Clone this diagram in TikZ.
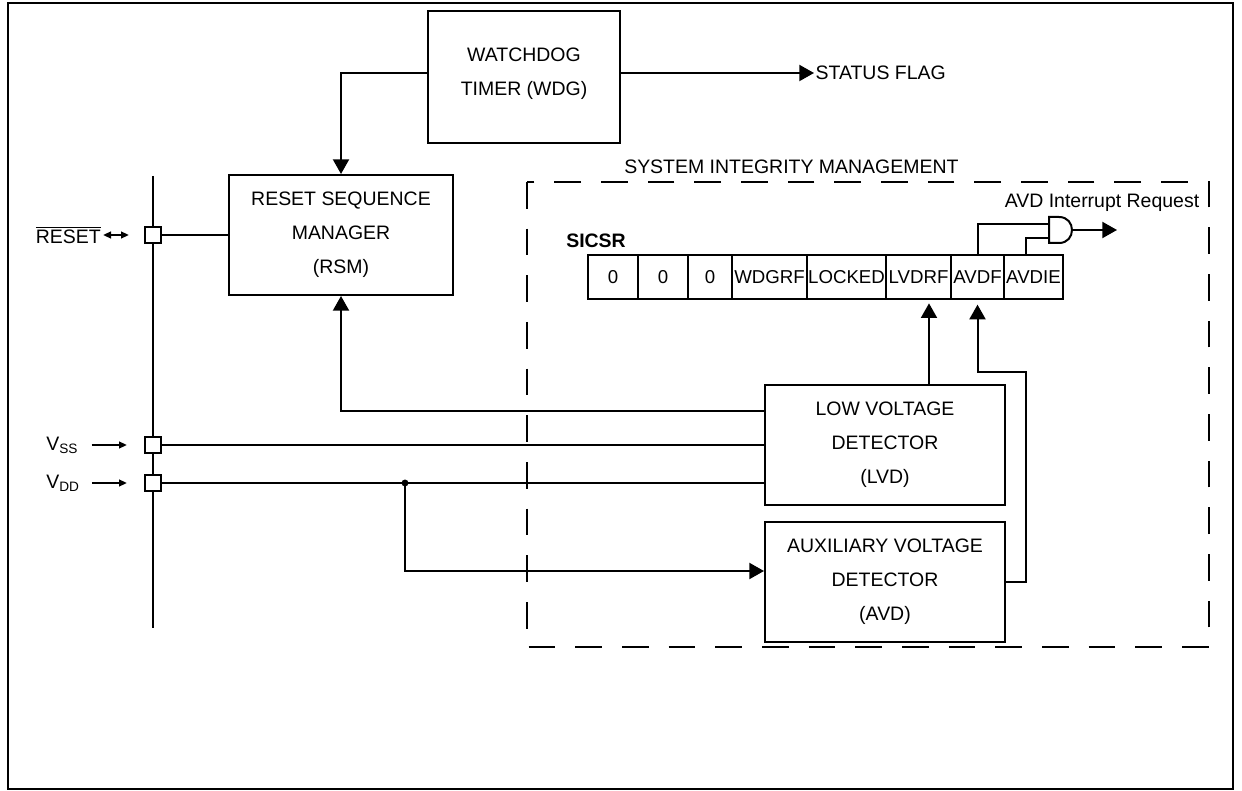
\documentclass[tikz,border=0pt]{standalone}
\usepackage{fontspec}
\setmainfont{Liberation Sans}
\usetikzlibrary{arrows.meta}

\begin{document}
\begin{tikzpicture}[x=0.75pt,y=0.75pt,yscale=-1,xscale=1,
  every node/.style={font=\fontsize{14.6}{25.5}\selectfont},
  blk/.style={draw, line width=1.5pt, align=center, inner sep=0pt},
  cell/.style={draw, line width=1.5pt, inner sep=0pt, minimum height=33pt, font=\fontsize{14}{16}\selectfont},
  pinbox/.style={draw, fill=white, line width=1.3pt, minimum size=12pt, inner sep=0pt},
  wire/.style={line width=1.5pt},
  bigtip/.style={-{Triangle[length=11pt,width=12pt]}},
  smalltip/.style={-{Triangle[length=6pt,width=5pt]}},
]
\useasboundingbox (0,0) rectangle (1242,791);

%Shape: Rectangle [frame] 
\draw [line width=2.2pt] (8,3) rectangle (1233,789) ;
%Shape: Rectangle [system integrity management] 
\draw [wire, dash pattern=on 20pt off 15pt] (527,182) rectangle (1209,647) ;

%Shape: Boxes 
\node [blk, minimum width=144pt, minimum height=99pt] (wdg) at (524,77) {};
\node [align=center] (wdgtxt) at (524,74) {WATCHDOG\\TIMER (WDG)};
\node [blk, minimum width=168pt, minimum height=90pt] (rsm) at (341,235) {RESET SEQUENCE\\MANAGER\\(RSM)};
\node [blk, minimum width=180pt, minimum height=90pt] (lvd) at (885,445) {LOW VOLTAGE\\DETECTOR\\(LVD)};
\node [blk, minimum width=180pt, minimum height=90pt] (avd) at (885,582) {AUXILIARY VOLTAGE\\DETECTOR\\(AVD)};

%Shape: Register SICSR 
\foreach \l/\r/\t/\n in {588/638/0/bitA, 638/688/0/bitB, 688/732/0/bitC, 732/807/WDGRF/wdgrf, 807/886/LOCKED/locked, 886/951/LVDRF/lvdrf, 951/1004/AVDF/avdf, 1004/1063/AVDIE/avdie}
  \node [cell, minimum width={(\r-\l)*0.75pt}] (\n) at ({(\l+\r)/2},277) {\t};
% Text Node
\node [anchor=base west, inner sep=0pt, font=\fontsize{14.6}{17}\selectfont\bfseries] (sicsr) at (566,248) {SICSR};

%Shape: AND gate 
\draw [wire, fill=white] (1049,217) -- (1059,217) .. controls (1076.3,217) and (1076.3,243) .. (1059,243) -- (1049,243) -- cycle ;
\coordinate (gin1) at (1049,224);
\coordinate (gin2) at (1049,238);
\coordinate (gout) at (1072,230);
% Text Node
\node [inner sep=0pt] (irqlbl) at (1102,203) {AVD Interrupt Request};
\coordinate (irq) at (1117,230);
\draw [wire] (avdf.north) |- (gin1) ;
\draw [wire] ([xshift=-5.6pt]avdie.north) |- (gin2) ;
\draw [wire, bigtip] (gout) -- (irq) ;

%Shape: Pins and bus 
\coordinate (bustop) at (153,176);
\coordinate (busbot) at (153,628);
\draw [wire] (bustop) -- (busbot) ;
\node [pinbox] (prst) at (153,235) {};
\node [pinbox] (pvss) at (153,445) {};
\node [pinbox] (pvdd) at (153,483) {};

% Text Node
\node [anchor=east, inner sep=0pt] (rstlbl) at (101,235) {$\overline{\mbox{RESET}}$};
\node [anchor=west, inner sep=0pt] (vsslbl) at (46,445) {V\textsubscript{SS}};
\node [anchor=west, inner sep=0pt] (vddlbl) at (46,483) {V\textsubscript{DD}};
\coordinate (rstarr) at (129,235);
\coordinate (vssarr) at (127,445);
\coordinate (vddarr) at (127,483);
\draw [wire, {Triangle[length=6pt,width=5pt]}-{Triangle[length=6pt,width=5pt]}, shorten <=1.5pt] (rstlbl.east) -- (rstarr) ;
\draw [wire, smalltip] ([xshift=10pt]vsslbl.east |- vssarr) -- (vssarr) ;
\draw [wire, smalltip] ([xshift=9pt]vddlbl.east |- vddarr) -- (vddarr) ;

%Straight Lines [pins to blocks] 
\draw [wire] (prst.east) -- (rsm.west) ;
\draw [wire] (pvss.east) -- (lvd.west) ;
\draw [wire] (pvdd.east) -- (lvd.west |- pvdd) ;
\coordinate (jn) at (405,483);
\fill (jn) circle (2.6pt) ;
\draw [wire, bigtip] (jn) |- ([yshift=-8.25pt]avd.west) ;

%Straight Lines [watchdog] 
\coordinate (wdgl) at ([yshift=-3pt]wdg.west);
\coordinate (wdgr) at ([yshift=-3pt]wdg.east);
\draw [wire, bigtip] (wdgl) -| (rsm.north) ;
% Text Node
\node [anchor=west, inner sep=1pt] (statlbl) at (814,73) {STATUS FLAG};
\draw [wire, bigtip] (wdgr) -- (wdgr -| statlbl.west) ;

%Straight Lines [detector outputs] 
\draw [wire, bigtip] ([yshift=-25.5pt]lvd.west) -| (rsm.south) ;
\coordinate (lvdout) at ([xshift=33pt]lvd.north);
\draw [wire, bigtip, shorten >=2.5pt] (lvdout) -- (lvdout |- lvdrf.south) ;
\coordinate (avdbend) at (1026,372);
\draw [wire, bigtip, shorten >=3.5pt] (avd.east) -| (avdbend) -| (avdf.south) ;

% Text Node
\node [anchor=west, inner sep=0pt] (simlbl) at (624,167) {SYSTEM INTEGRITY MANAGEMENT};

\end{tikzpicture}
\end{document}
